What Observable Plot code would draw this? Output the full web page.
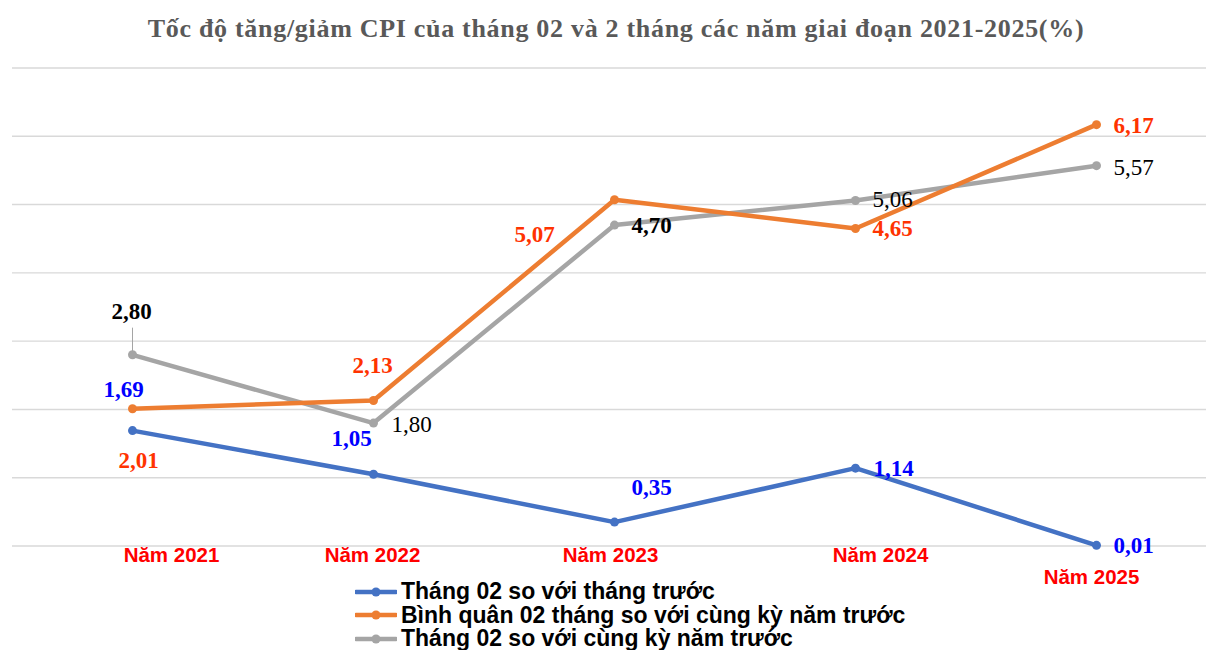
<!DOCTYPE html>
<html>
<head>
<meta charset="utf-8">
<script src="https://cdn.jsdelivr.net/npm/d3@7"></script>
<script src="https://cdn.jsdelivr.net/npm/@observablehq/plot@0.6"></script>
<style>
  html, body { margin: 0; padding: 0; background: #fff; }
  #wrap { position: relative; width: 1206px; height: 650px; overflow: hidden; }
  #title { position: absolute; left: 0; width: 1232px; top: 14px; text-align: center;
    font-family: "Liberation Serif", "Times New Roman", serif; font-weight: bold; font-size: 26px; letter-spacing: 0.7px; color: #595959; white-space: nowrap; }
  #chart { position: absolute; left: 0; top: 0; }
  #legend { position: absolute; left: 355px; top: 580px; font-family: "Liberation Sans", Arial, sans-serif;
    font-weight: bold; font-size: 23px; color: #000; }
  .row { display: flex; align-items: center; height: 23.5px; line-height: 23.5px; white-space: nowrap; }
  .row svg { margin-right: 4px; }
</style>
</head>
<body>
<div id="wrap">
  <div id="chart"></div>
  <div id="title">Tốc độ tăng/giảm CPI của tháng 02 và 2 tháng các năm giai đoạn 2021-2025(%)</div>
  <div id="legend"></div>
</div>
<script>
const years = ["Năm 2021", "Năm 2022", "Năm 2023", "Năm 2024", "Năm 2025"];
const seriesNames = [
  "Tháng 02 so với tháng trước",
  "Bình quân 02 tháng so với cùng kỳ năm trước",
  "Tháng 02 so với cùng kỳ năm trước"
];
const thang02SoThangTruoc = [1.69, 1.05, 0.35, 1.14, 0.01];
const binhQuan2Thang = [2.01, 2.13, 5.07, 4.65, 6.17];
const thang02SoCungKy = [2.80, 1.80, 4.70, 5.06, 5.57];
const yTicks = [0, 1, 2, 3, 4, 5, 6, 7];

const seriesValues = [thang02SoThangTruoc, binhQuan2Thang, thang02SoCungKy];
const lineColors = ["#4472C4", "#ED7D31", "#A5A5A5"];
const labelColors = ["#0000FF", "#FF3300", "#000000"];

const rows = [];
seriesNames.forEach((s, si) => years.forEach((y, yi) => rows.push({series: s, si, year: y, yi, value: seriesValues[si][yi]})));

// label placement [dx, dy, weight] per series / year (layout only)
const labelLayout = [
  [[-9, -41, "bold"], [-22, -36, "bold"], [37, -34, "bold"], [38, 0, "bold"], [37, 0, "bold"]],
  [[6, 52, "bold"], [-1, -35, "bold"], [-80, 35, "bold"], [37, 0, "bold"], [37, 1, "bold"]],
  [[-1, -43, "bold"], [38, 2, "normal"], [37, 1, "bold"], [37, -1, "normal"], [37, 2, "normal"]]
];
const catLayout = [[39, 9], [-1, 9], [-4, 9], [25, 9], [-5, 31]];

const fmt = v => v.toFixed(2).replace(".", ",");

const labelMarks = rows.map(r => {
  const [dx, dy, w] = labelLayout[r.si][r.yi];
  return Plot.text([r], {x: "year", y: "value", text: d => fmt(d.value), dx, dy,
    fill: labelColors[r.si], fontWeight: w, fontSize: 23,
    fontFamily: "Liberation Serif, Times New Roman, serif", textAnchor: "middle"});
});
const catMarks = years.map((y, i) => Plot.text([y], {x: d => d, y: () => 0, text: d => d,
  dx: catLayout[i][0], dy: catLayout[i][1], fill: "#FF0000", fontWeight: "bold", fontSize: 20.5,
  fontFamily: "Liberation Sans, Arial, sans-serif", textAnchor: "middle"}));

const leader = rows.filter(r => r.si === 2 && r.yi === 0);

const chart = Plot.plot({
  width: 1206,
  height: 650,
  marginLeft: 12,
  marginRight: 0,
  marginTop: 67.5,
  marginBottom: 104.5,
  x: {type: "point", domain: years, range: [132, 1096], padding: 0, axis: null},
  y: {domain: [0, 7], axis: null},
  style: {background: "transparent"},
  marks: [
    Plot.ruleY(yTicks, {stroke: "#D9D9D9", strokeWidth: 1.4}),
    Plot.ruleX(leader, {x: "year", y1: "value", y2: d => d.value + 0.39, stroke: "#A5A5A5", strokeWidth: 1}),
    ...[2, 1, 0].map(si => Plot.line(rows.filter(r => r.si === si), {x: "year", y: "value",
      stroke: lineColors[si], strokeWidth: 4.5, strokeLinejoin: "round", strokeLinecap: "round"})),
    ...[2, 1, 0].map(si => Plot.dot(rows.filter(r => r.si === si), {x: "year", y: "value",
      r: 4.5, fill: lineColors[si], stroke: "none"})),
    ...labelMarks,
    ...catMarks
  ]
});
document.getElementById("chart").appendChild(chart);

const legend = document.getElementById("legend");
seriesNames.forEach((s, i) => {
  const row = document.createElement("div");
  row.className = "row";
  row.innerHTML = `<svg width="42" height="12"><line x1="1" y1="6" x2="41" y2="6" stroke="${lineColors[i]}" stroke-width="4.5" stroke-linecap="round"/><circle cx="21" cy="6" r="4.5" fill="${lineColors[i]}"/></svg><span>${s}</span>`;
  legend.appendChild(row);
});
</script>
</body>
</html>
